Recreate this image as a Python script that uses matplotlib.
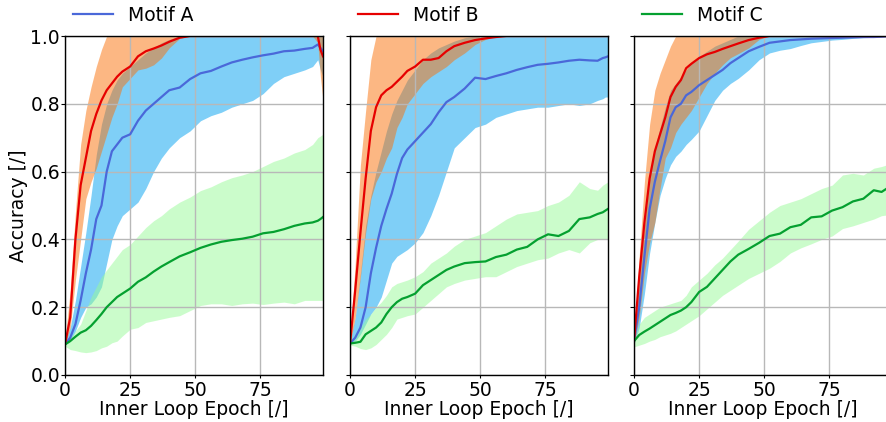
import matplotlib
matplotlib.use("Agg")
import matplotlib.pyplot as plt
import numpy as np

epochs = [0, 2, 4, 6, 8, 10, 12, 14, 16, 18, 20, 22, 25, 28, 31, 34, 37, 40, 44, 48,
          52, 56, 60, 64, 68, 72, 76, 80, 84, 88, 92, 95, 97, 98, 99]
series_names = ["Motif A", "Motif B", "Motif C"]
x_ticks = [0, 25, 50, 75]
y_ticks = [0.0, 0.2, 0.4, 0.6, 0.8, 1.0]

# ---------------- Panel 1 ----------------
p1_a_mean = [0.09, 0.11, 0.15, 0.22, 0.30, 0.37, 0.46, 0.50, 0.60, 0.66, 0.68, 0.70, 0.71, 0.75, 0.78, 0.80, 0.82, 0.84, 0.848, 0.873,
             0.89, 0.897, 0.91, 0.922, 0.93, 0.937, 0.943, 0.948, 0.955, 0.957, 0.962, 0.965, 0.975, 0.965, 0.955]
p1_a_hi = [0.10, 0.14, 0.22, 0.32, 0.42, 0.53, 0.65, 0.74, 0.80, 0.84, 0.87, 0.89, 0.91, 0.93, 0.95, 0.965, 0.98, 0.99, 1.0, 1.0,
           1.0, 1.0, 1.0, 1.0, 1.0, 1.0, 1.0, 1.0, 1.0, 1.0, 1.0, 1.0, 1.0, 1.0, 1.0]
p1_a_lo = [0.09, 0.10, 0.13, 0.17, 0.20, 0.21, 0.23, 0.26, 0.33, 0.40, 0.44, 0.47, 0.49, 0.51, 0.55, 0.60, 0.64, 0.67, 0.70, 0.72,
           0.75, 0.765, 0.775, 0.79, 0.80, 0.81, 0.83, 0.86, 0.88, 0.89, 0.90, 0.91, 0.93, 0.90, 0.88]
p1_b_mean = [0.09, 0.17, 0.40, 0.56, 0.64, 0.72, 0.77, 0.81, 0.84, 0.86, 0.88, 0.895, 0.91, 0.94, 0.955, 0.963, 0.972, 0.983, 0.995, 1.0,
             1.0, 1.0, 1.0, 1.0, 1.0, 1.0, 1.0, 1.0, 1.0, 1.0, 1.0, 1.0, 1.0, 0.96, 0.94]
p1_b_hi = [0.10, 0.25, 0.48, 0.68, 0.78, 0.85, 0.91, 0.96, 1.0, 1.0, 1.0, 1.0, 1.0, 1.0, 1.0, 1.0, 1.0, 1.0, 1.0, 1.0,
           1.0, 1.0, 1.0, 1.0, 1.0, 1.0, 1.0, 1.0, 1.0, 1.0, 1.0, 1.0, 1.0, 1.0, 1.0]
p1_b_lo = [0.09, 0.14, 0.28, 0.40, 0.52, 0.57, 0.61, 0.66, 0.71, 0.76, 0.80, 0.85, 0.875, 0.90, 0.905, 0.915, 0.935, 0.965, 0.993, 1.0,
           1.0, 1.0, 1.0, 1.0, 1.0, 1.0, 1.0, 1.0, 1.0, 1.0, 1.0, 1.0, 0.98, 0.88, 0.81]
p1_c_mean = [0.09, 0.10, 0.113, 0.125, 0.132, 0.145, 0.162, 0.18, 0.20, 0.215, 0.23, 0.24, 0.255, 0.275, 0.288, 0.305, 0.32, 0.333, 0.35, 0.362,
             0.375, 0.385, 0.393, 0.398, 0.402, 0.408, 0.418, 0.422, 0.43, 0.44, 0.447, 0.45, 0.455, 0.46, 0.466]
p1_c_hi = [0.10, 0.11, 0.13, 0.15, 0.19, 0.23, 0.26, 0.29, 0.31, 0.33, 0.35, 0.37, 0.385, 0.41, 0.435, 0.455, 0.47, 0.49, 0.51, 0.525,
           0.544, 0.555, 0.57, 0.582, 0.59, 0.60, 0.615, 0.63, 0.64, 0.655, 0.665, 0.68, 0.70, 0.705, 0.71]
p1_c_lo = [0.085, 0.075, 0.072, 0.068, 0.066, 0.068, 0.072, 0.08, 0.085, 0.095, 0.10, 0.115, 0.135, 0.14, 0.155, 0.16, 0.165, 0.17, 0.175, 0.19,
           0.205, 0.21, 0.21, 0.205, 0.21, 0.212, 0.208, 0.212, 0.215, 0.21, 0.22, 0.22, 0.22, 0.22, 0.22]

# ---------------- Panel 2 ----------------
p2_a_mean = [0.093, 0.11, 0.14, 0.20, 0.30, 0.375, 0.44, 0.49, 0.535, 0.593, 0.64, 0.665, 0.69, 0.715, 0.74, 0.775, 0.805, 0.82, 0.845, 0.877,
             0.873, 0.882, 0.89, 0.90, 0.908, 0.915, 0.918, 0.922, 0.927, 0.93, 0.928, 0.927, 0.935, 0.937, 0.94]
p2_a_hi = [0.10, 0.17, 0.30, 0.44, 0.53, 0.60, 0.66, 0.72, 0.77, 0.81, 0.84, 0.87, 0.90, 0.93, 0.95, 0.965, 0.975, 0.985, 0.995, 1.0,
           1.0, 1.0, 1.0, 1.0, 1.0, 1.0, 1.0, 1.0, 1.0, 1.0, 1.0, 1.0, 1.0, 1.0, 1.0]
p2_a_lo = [0.09, 0.10, 0.12, 0.15, 0.18, 0.20, 0.23, 0.28, 0.33, 0.35, 0.36, 0.37, 0.39, 0.42, 0.47, 0.53, 0.60, 0.67, 0.70, 0.73,
           0.74, 0.76, 0.77, 0.78, 0.785, 0.79, 0.79, 0.795, 0.80, 0.795, 0.80, 0.81, 0.815, 0.82, 0.82]
p2_b_mean = [0.093, 0.25, 0.42, 0.58, 0.72, 0.79, 0.825, 0.84, 0.85, 0.865, 0.88, 0.897, 0.91, 0.93, 0.93, 0.935, 0.955, 0.97, 0.98, 0.988,
             0.993, 0.997, 1.0, 1.0, 1.0, 1.0, 1.0, 1.0, 1.0, 1.0, 1.0, 1.0, 1.0, 1.0, 1.0]
p2_b_hi = [0.10, 0.33, 0.62, 0.78, 0.93, 1.0, 1.0, 1.0, 1.0, 1.0, 1.0, 1.0, 1.0, 1.0, 1.0, 1.0, 1.0, 1.0, 1.0, 1.0,
           1.0, 1.0, 1.0, 1.0, 1.0, 1.0, 1.0, 1.0, 1.0, 1.0, 1.0, 1.0, 1.0, 1.0, 1.0]
p2_b_lo = [0.09, 0.17, 0.29, 0.42, 0.52, 0.57, 0.60, 0.64, 0.67, 0.73, 0.76, 0.80, 0.83, 0.86, 0.88, 0.895, 0.91, 0.93, 0.95, 0.975,
           0.99, 1.0, 1.0, 1.0, 1.0, 1.0, 1.0, 1.0, 1.0, 1.0, 1.0, 1.0, 1.0, 1.0, 1.0]
p2_c_mean = [0.093, 0.095, 0.098, 0.12, 0.13, 0.14, 0.155, 0.18, 0.20, 0.215, 0.225, 0.23, 0.24, 0.265, 0.28, 0.295, 0.31, 0.32, 0.33, 0.333,
             0.335, 0.348, 0.355, 0.37, 0.378, 0.40, 0.415, 0.41, 0.425, 0.46, 0.465, 0.475, 0.48, 0.485, 0.49]
p2_c_hi = [0.10, 0.12, 0.14, 0.165, 0.18, 0.20, 0.215, 0.235, 0.26, 0.27, 0.275, 0.28, 0.29, 0.305, 0.33, 0.345, 0.36, 0.38, 0.40, 0.41,
           0.42, 0.44, 0.46, 0.475, 0.48, 0.485, 0.50, 0.51, 0.53, 0.57, 0.55, 0.545, 0.56, 0.565, 0.57]
p2_c_lo = [0.088, 0.085, 0.078, 0.075, 0.08, 0.09, 0.105, 0.12, 0.14, 0.165, 0.17, 0.175, 0.18, 0.20, 0.22, 0.24, 0.26, 0.27, 0.28, 0.285,
           0.29, 0.29, 0.305, 0.32, 0.33, 0.34, 0.345, 0.36, 0.37, 0.36, 0.39, 0.40, 0.40, 0.40, 0.40]

# ---------------- Panel 3 ----------------
p3_a_mean = [0.10, 0.20, 0.35, 0.49, 0.57, 0.632, 0.69, 0.76, 0.79, 0.80, 0.825, 0.835, 0.855, 0.87, 0.885, 0.90, 0.92, 0.935, 0.955, 0.968,
             0.98, 0.984, 0.988, 0.99, 0.992, 0.993, 0.994, 0.995, 0.996, 0.997, 0.997, 0.998, 0.999, 1.0, 1.0]
p3_a_hi = [0.10, 0.28, 0.44, 0.58, 0.67, 0.73, 0.79, 0.84, 0.86, 0.88, 0.90, 0.92, 0.94, 0.955, 0.97, 0.98, 0.99, 1.0, 1.0, 1.0,
           1.0, 1.0, 1.0, 1.0, 1.0, 1.0, 1.0, 1.0, 1.0, 1.0, 1.0, 1.0, 1.0, 1.0, 1.0]
p3_a_lo = [0.09, 0.14, 0.24, 0.36, 0.45, 0.53, 0.58, 0.62, 0.645, 0.66, 0.68, 0.695, 0.72, 0.765, 0.81, 0.84, 0.86, 0.875, 0.90, 0.93,
           0.95, 0.958, 0.963, 0.972, 0.98, 0.984, 0.988, 0.99, 0.993, 0.995, 0.996, 0.997, 0.998, 0.999, 1.0]
p3_b_mean = [0.10, 0.29, 0.45, 0.58, 0.66, 0.71, 0.76, 0.82, 0.85, 0.87, 0.905, 0.918, 0.935, 0.946, 0.953, 0.962, 0.97, 0.978, 0.988, 0.995,
             1.0, 1.0, 1.0, 1.0, 1.0, 1.0, 1.0, 1.0, 1.0, 1.0, 1.0, 1.0, 1.0, 1.0, 1.0]
p3_b_hi = [0.10, 0.35, 0.57, 0.74, 0.84, 0.89, 0.93, 0.97, 1.0, 1.0, 1.0, 1.0, 1.0, 1.0, 1.0, 1.0, 1.0, 1.0, 1.0, 1.0,
           1.0, 1.0, 1.0, 1.0, 1.0, 1.0, 1.0, 1.0, 1.0, 1.0, 1.0, 1.0, 1.0, 1.0, 1.0]
p3_b_lo = [0.09, 0.17, 0.30, 0.39, 0.45, 0.55, 0.64, 0.67, 0.715, 0.74, 0.76, 0.78, 0.82, 0.86, 0.89, 0.915, 0.936, 0.948, 0.965, 0.99,
           1.0, 1.0, 1.0, 1.0, 1.0, 1.0, 1.0, 1.0, 1.0, 1.0, 1.0, 1.0, 1.0, 1.0, 1.0]
p3_c_mean = [0.10, 0.118, 0.128, 0.137, 0.147, 0.157, 0.167, 0.177, 0.183, 0.19, 0.20, 0.215, 0.245, 0.26, 0.285, 0.31, 0.335, 0.355, 0.372, 0.39,
             0.41, 0.417, 0.436, 0.443, 0.465, 0.468, 0.485, 0.495, 0.512, 0.52, 0.545, 0.54, 0.55, 0.548, 0.55]
p3_c_hi = [0.10, 0.15, 0.17, 0.18, 0.19, 0.20, 0.205, 0.21, 0.215, 0.22, 0.235, 0.26, 0.28, 0.30, 0.325, 0.345, 0.37, 0.395, 0.43, 0.455,
           0.48, 0.50, 0.51, 0.52, 0.535, 0.55, 0.56, 0.59, 0.595, 0.59, 0.61, 0.615, 0.62, 0.62, 0.62]
p3_c_lo = [0.083, 0.088, 0.093, 0.10, 0.105, 0.113, 0.118, 0.123, 0.13, 0.14, 0.15, 0.16, 0.175, 0.195, 0.215, 0.235, 0.25, 0.265, 0.285, 0.30,
           0.315, 0.335, 0.36, 0.375, 0.387, 0.40, 0.41, 0.432, 0.44, 0.45, 0.46, 0.47, 0.472, 0.475, 0.475]

panels = [
    [(p1_a_mean, p1_a_lo, p1_a_hi), (p1_b_mean, p1_b_lo, p1_b_hi), (p1_c_mean, p1_c_lo, p1_c_hi)],
    [(p2_a_mean, p2_a_lo, p2_a_hi), (p2_b_mean, p2_b_lo, p2_b_hi), (p2_c_mean, p2_c_lo, p2_c_hi)],
    [(p3_a_mean, p3_a_lo, p3_a_hi), (p3_b_mean, p3_b_lo, p3_b_hi), (p3_c_mean, p3_c_lo, p3_c_hi)],
]

line_colors = ["#4a68d9", "#e60000", "#05a030"]
fill_colors = ["#00a0f0", "#fb7108", "#98fb98"]
fill_alphas = [0.5, 0.5, 0.5]

FS = 13.5
plt.rcParams["font.family"] = ["DejaVu Sans"]
plt.rcParams["font.size"] = FS

W, H = 886, 422
fig = plt.figure(figsize=(W / 100, H / 100), dpi=100)
lefts = [65, 350, 634]
ax_w = 258
ax_b, ax_t = 375, 36

for i, left in enumerate(lefts):
    ax = fig.add_axes([left / W, 1 - ax_b / H, ax_w / W, (ax_b - ax_t) / H])
    series = panels[i]
    for k, (m, lo, hi) in enumerate(series):
        ax.fill_between(epochs, lo, hi, color=fill_colors[k], alpha=fill_alphas[k], linewidth=0)
    handles = []
    for k, (m, lo, hi) in enumerate(series):
        h, = ax.plot(epochs, m, color=line_colors[k], lw=1.6, label=series_names[k])
        handles.append(h)
    ax.set_xlim(0, 99)
    ax.set_ylim(0, 1.0)
    ax.set_xticks(x_ticks)
    ax.set_yticks(y_ticks)
    ax.grid(True, color="#b8b8b8", lw=1)
    ax.tick_params(axis="x", labelsize=FS, length=2, pad=2)
    ax.tick_params(axis="y", labelsize=FS, length=2.8, pad=0.8)
    ax.set_xlabel("Inner Loop Epoch [/]", fontsize=FS, labelpad=0)
    if i == 0:
        ax.set_ylabel("Accuracy [/]", fontsize=FS, labelpad=1.5)
    else:
        ax.set_yticklabels([])
    for s in ax.spines.values():
        s.set_linewidth(1.0)
    ax.legend(handles=[handles[i]], loc="lower left", bbox_to_anchor=(0, 1.008),
              frameon=False, fontsize=FS, borderaxespad=0.1, borderpad=0.35,
              handlelength=2.1)

fig.savefig("out.png", dpi=100)
